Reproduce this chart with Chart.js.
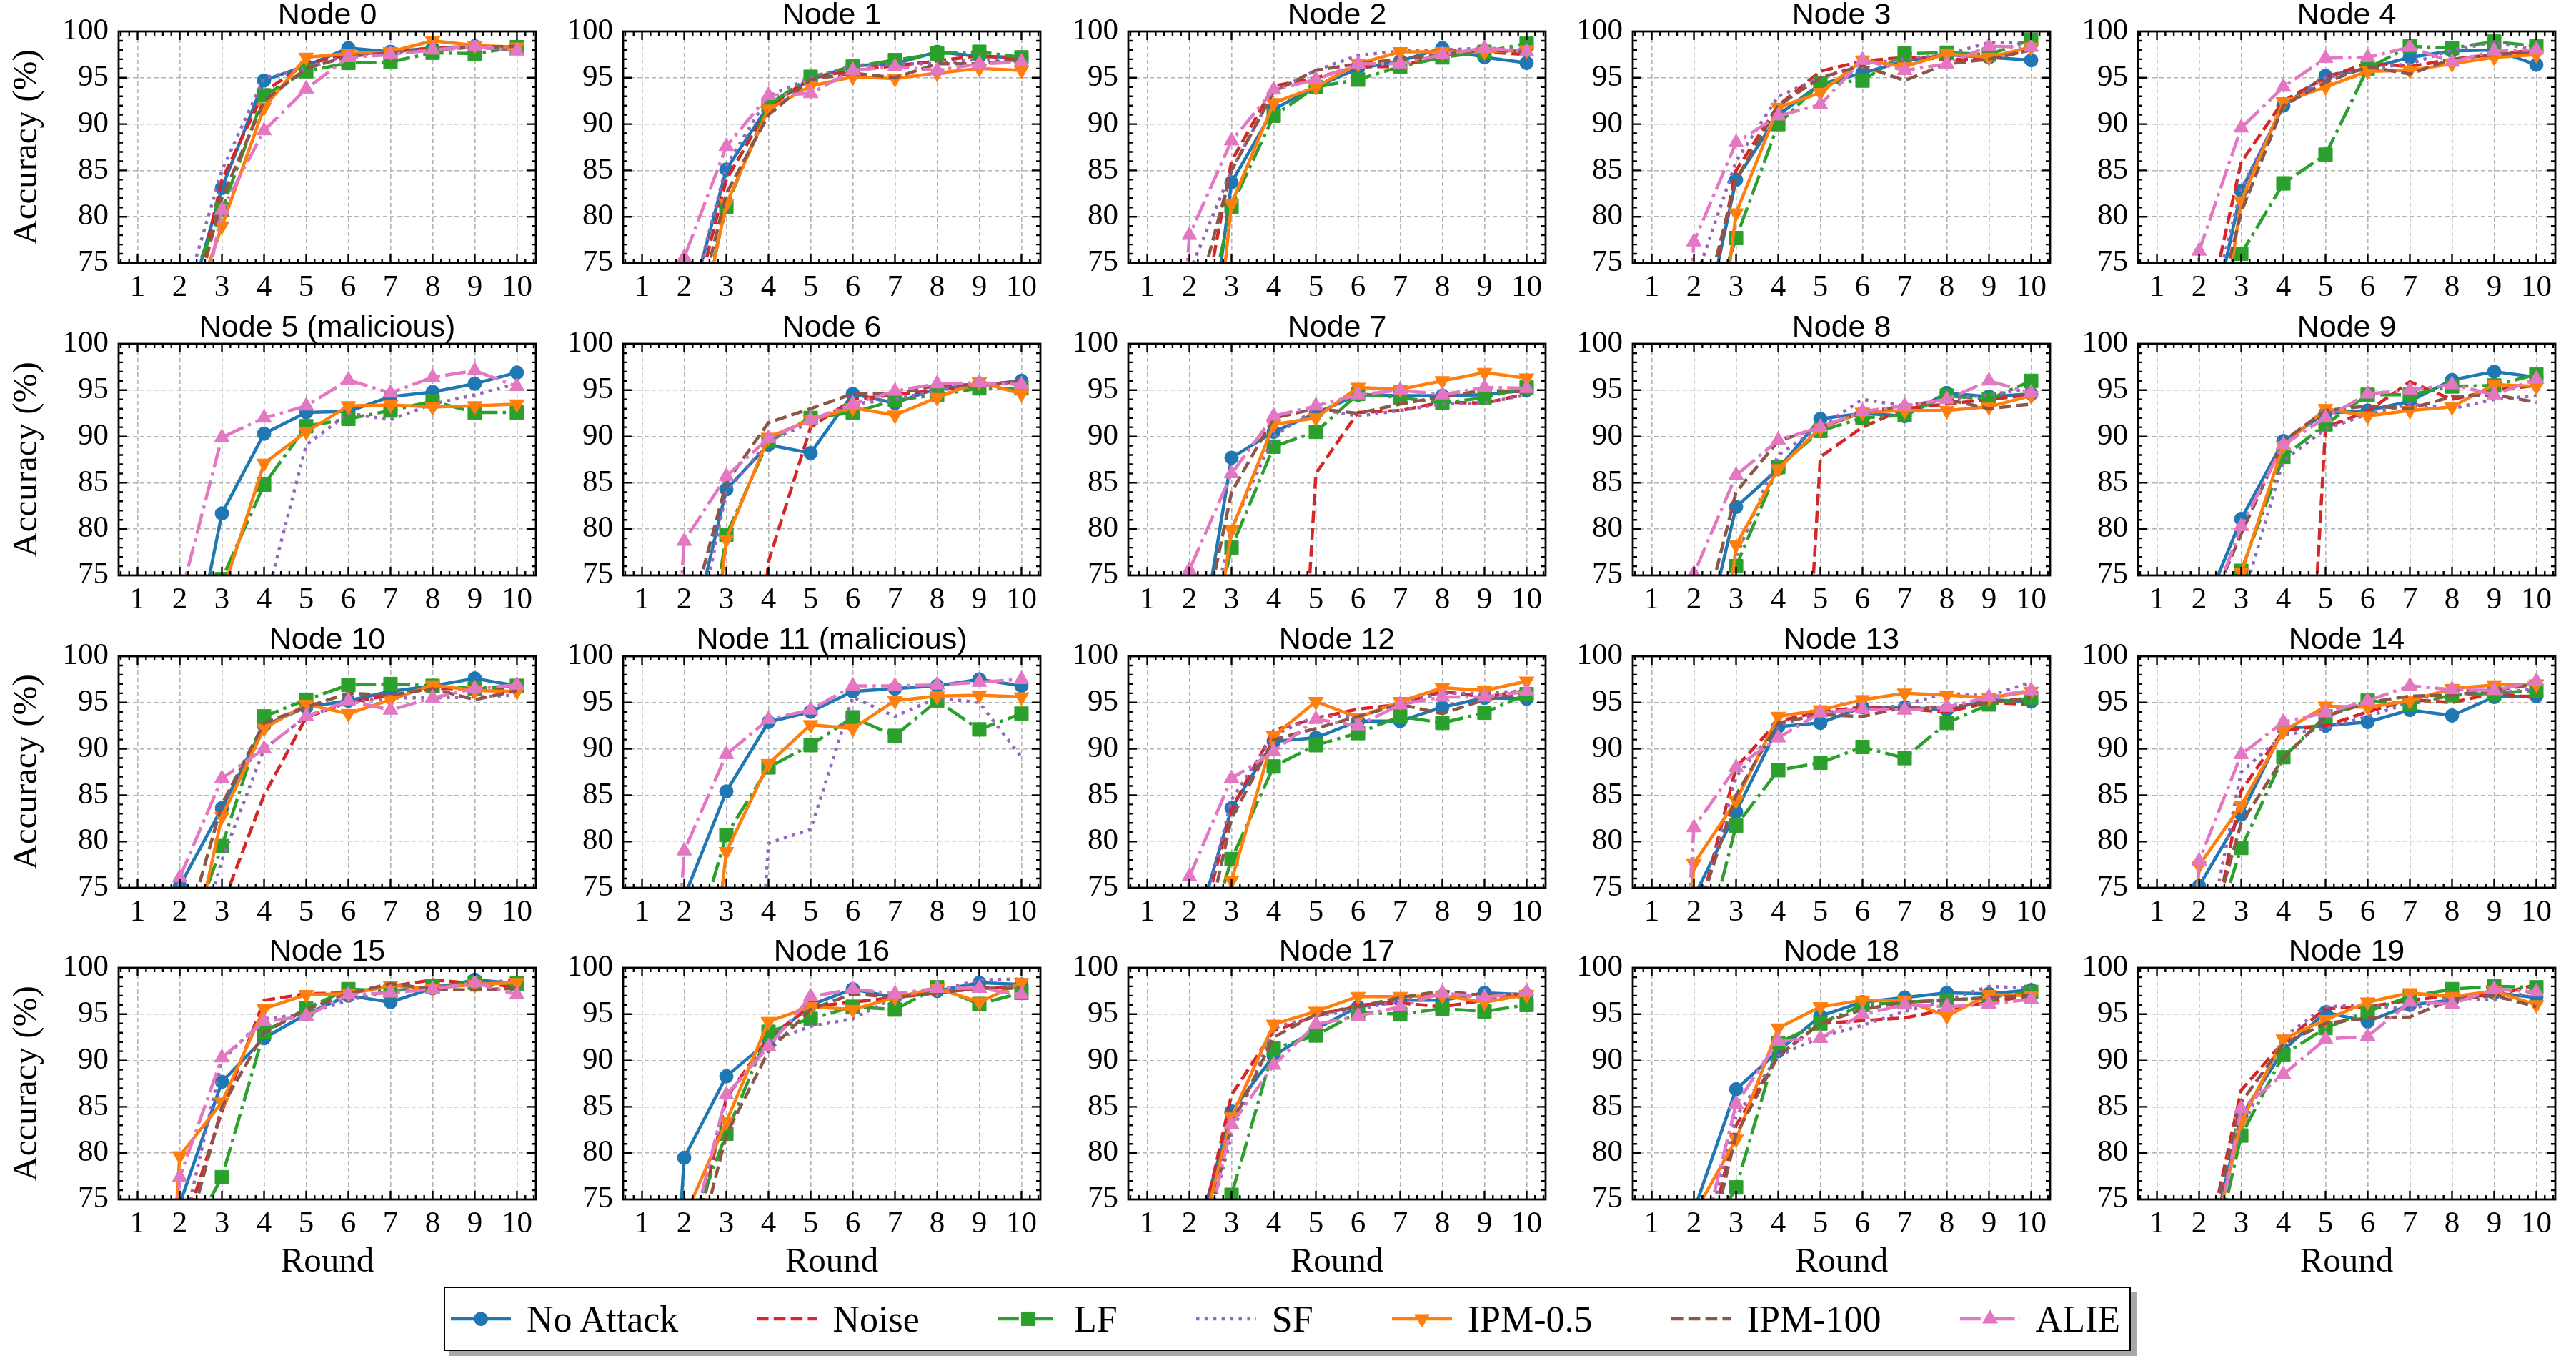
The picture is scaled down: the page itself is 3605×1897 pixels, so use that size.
<!DOCTYPE html>
<html lang="en">
<head>
<meta charset="utf-8">
<title>Accuracy per node</title>
<script src="https://cdn.jsdelivr.net/npm/chart.js@4.4.1/dist/chart.umd.min.js"></script>
<style>
html,body{margin:0;padding:0;background:#fff}
body{position:relative;width:3605px;height:1897px;overflow:hidden;font-family:'Liberation Serif',serif}
.cell{position:absolute}
#legend{position:absolute;left:621px;top:1800px;width:2361px;height:90px;box-sizing:border-box;border:2.6px solid #000;box-shadow:8px 8px 0 #a8a8a8;background:#fff;display:flex;align-items:center;justify-content:space-between;padding:0 13px 0 8px}
.item{display:flex;align-items:center;font-size:52px;color:#000;white-space:nowrap}
.item canvas{margin-right:22px}
</style>
</head>
<body>
<div id="legend"></div>
<script>
/* ===== data ===== */
const ROUNDS=[1,2,3,4,5,6,7,8,9,10];
const Y_TICKS=[75,80,85,90,95,100];
const NAMES=['No Attack','Noise','LF','SF','IPM-0.5','IPM-100','ALIE'];
const TITLES=['Node 0','Node 1','Node 2','Node 3','Node 4','Node 5 (malicious)','Node 6','Node 7','Node 8','Node 9',
  'Node 10','Node 11 (malicious)','Node 12','Node 13','Node 14','Node 15','Node 16','Node 17','Node 18','Node 19'];

const NO_ATTACK=[
 [10,67,83.1,94.7,96.3,98.2,97.8,98.2,98.4,98.3],
 [10,68,85.1,92.0,94.8,96.3,96.5,97.8,97.3,97.2],
 [10,49,83.7,91.6,94.0,96.0,96.8,98.2,97.2,96.6],
 [10,63,84.0,91.0,94.3,95.5,96.8,97.5,97.2,96.9],
 [10,62,82.8,92.0,95.2,96.0,97.2,97.9,98.0,96.4],
 [10,59,81.7,90.3,92.6,92.7,94.3,94.8,95.7,96.9],
 [10,65,84.3,89.1,88.2,94.6,93.6,95.2,95.5,96.0],
 [10,60,87.7,90.5,92.5,94.5,94.4,94.4,94.5,95.0],
 [10,63,82.4,86.5,91.9,92.5,92.2,94.7,94.3,94.6],
 [10,70,81.1,89.5,92.5,92.8,93.8,96.1,97.0,96.4],
 [10,75.2,83.6,92.5,94.5,95.2,96.2,96.8,97.6,96.8],
 [10,74,85.4,92.9,94.0,96.2,96.5,96.8,97.5,96.8],
 [10,68,83.6,90.8,91.2,93.0,93.0,94.5,95.5,95.4],
 [10,74,83.2,92.4,92.8,94.5,94.5,94.2,95.3,95.1],
 [10,75.2,82.9,92.2,92.5,92.9,94.2,93.6,95.6,95.7],
 [10,74.5,87.7,92.4,95.0,97.0,96.3,97.8,98.7,98.3],
 [10,79.5,88.3,92.1,96.0,97.7,96.8,97.5,98.4,98.2],
 [10,68,84.5,90.5,93.4,95.8,96.5,96.5,97.3,97.1],
 [10,73.8,86.9,91.0,94.8,96.3,96.8,97.3,97.2,97.6],
 [10,65,84.0,91.1,95.2,94.2,96.0,96.5,97.3,96.8]
];
const NOISE=[
 [10,64,84.0,93.5,96.5,97.5,97.8,98.2,98.3,98.0],
 [10,66,84.0,91.8,95.0,95.8,96.3,96.8,97.4,97.0],
 [10,61.6,86.0,94.1,95.0,96.2,96.2,97.5,97.8,97.5],
 [10,62.8,85.0,92.0,95.7,96.8,97.2,97.0,97.0,98.0],
 [10,65.3,85.9,92.5,95.0,96.6,96.2,97.0,97.5,98.0],
 [10,10.2,9.8,10.1,10.0,9.9,10.3,10.0,9.8,10.1],
 [10,10,30,76.5,91.0,94.0,94.5,95.0,95.5,96.0],
 [10,10,10,10,86.0,92.6,92.8,93.7,93.6,94.6],
 [10,10,10,10,87.8,91.0,93.0,93.5,94.0,94.5],
 [10,10,10,10,91.0,92.7,95.9,94.0,95.0,95.5],
 [10,40,73.0,85.0,93.4,95.0,95.8,96.5,96.5,96.5],
 [10,9.9,10.1,10.0,10.2,9.8,10.0,10.1,9.9,10.0],
 [10,66,83.5,92.0,93.3,94.3,94.8,96.2,95.6,96.3],
 [10,70,88.0,93.0,94.0,94.5,94.3,94.0,95.0,94.8],
 [10,62,85.5,92.0,92.5,94.0,95.3,95.0,96.0,95.5],
 [10,70.5,84.5,96.5,97.2,97.3,98.0,98.7,98.3,98.0],
 [10,65,86.0,92.5,95.8,96.3,96.8,97.3,97.8,98.0],
 [10,66,86.3,93.2,94.8,96.0,96.2,95.8,96.5,97.0],
 [10,64,83.0,90.5,94.0,94.3,94.6,95.5,96.3,97.0],
 [10,66,86.8,92.0,95.6,95.8,96.5,97.0,97.0,98.2]
];
const LF=[
 [10,70,80.8,93.1,95.7,96.6,96.7,97.7,97.6,98.3],
 [10,62,81.1,92.1,95.1,96.2,96.9,97.6,97.8,97.2],
 [10,61,81.1,90.9,94.0,94.8,96.2,97.2,97.8,98.7],
 [10,64,77.7,90.0,94.4,94.7,97.6,97.7,97.5,99.1],
 [10,56,76.0,83.6,86.7,96.0,98.4,98.2,98.9,98.4],
 [10,45,74.6,84.8,91.1,91.9,92.8,93.8,92.6,92.6],
 [10,50,79.4,89.5,92.0,92.6,93.9,94.5,95.2,95.2],
 [10,58,78.0,88.9,90.5,94.6,94.2,93.6,94.2,95.3],
 [10,60,76.0,86.7,90.6,92.0,92.3,94.4,94.0,96.0],
 [10,55,75.5,87.8,91.3,94.5,94.5,95.4,95.5,96.7],
 [10,67,79.5,93.5,95.3,96.9,97.0,96.8,96.5,96.8],
 [10,65,80.7,88.0,90.4,93.4,91.4,95.2,92.1,93.8],
 [10,63,78.1,88.1,90.4,91.7,93.5,92.8,93.9,95.9],
 [10,64,81.7,87.7,88.5,90.2,89.0,92.8,94.8,95.5],
 [10,65,79.3,89.1,93.5,95.2,94.8,95.8,96.0,96.3],
 [10,69,77.4,93.1,95.6,97.7,97.5,98.0,98.4,98.3],
 [10,70,82.1,93.1,94.5,95.8,95.5,97.9,96.1,97.3],
 [10,50,75.5,91.3,92.7,95.2,95.0,95.6,95.3,96.0],
 [10,68,76.3,91.9,94.0,96.0,96.3,96.5,96.8,97.4],
 [10,62,81.9,90.6,93.5,95.3,96.9,97.7,98.0,97.9]
];
const SF=[
 [10,69.6,85.0,95.0,96.0,97.5,97.8,98.0,98.3,98.0],
 [10,68,85.5,93.0,95.0,96.3,96.5,96.5,97.0,96.8],
 [10,74,85.0,93.5,95.8,97.4,97.9,98.0,98.2,98.0],
 [10,72.7,86.0,93.0,95.0,96.5,97.0,97.5,98.8,98.8],
 [10,65,83.0,92.0,95.0,96.0,96.5,98.0,98.8,98.0],
 [10,20,40,71.5,89.1,92.5,91.8,93.5,94.5,95.7],
 [10,62,84.0,89.5,91.5,93.5,94.0,95.0,95.5,95.8],
 [10,60,80.0,90.0,93.0,92.2,92.8,93.5,93.6,94.5],
 [10,60,77.0,88.0,91.0,94.0,93.3,94.0,94.5,95.2],
 [10,40,71.9,87.4,90.8,92.4,93.5,93.0,94.0,94.4],
 [10,62,78.0,90.0,93.5,95.0,95.5,95.5,95.6,95.8],
 [10,10,10,79.8,81.3,95.6,93.5,95.5,95.0,89.1],
 [10,66,84.5,91.5,93.5,93.5,95.0,96.0,96.0,96.3],
 [10,70,87.0,92.5,94.0,94.0,94.8,96.0,95.7,97.2],
 [10,65,87.5,91.5,92.2,93.5,95.0,96.5,96.0,96.5],
 [10,70,90.0,94.5,95.0,96.5,97.5,98.0,98.3,98.7],
 [10,68,86.0,92.0,93.7,94.5,96.8,97.5,98.7,98.8],
 [10,64,82.0,93.5,94.8,95.5,96.5,97.2,96.8,97.0],
 [10,66,84.0,90.5,92.5,93.8,95.3,96.5,98.0,97.8],
 [10,68,82.5,92.5,95.8,96.0,95.5,96.8,96.5,97.5]
];
const IPM_05=[
 [10,65.7,79.0,91.8,97.2,97.6,97.8,99.0,98.5,98.3],
 [10,60,81.4,91.6,94.1,95.1,94.9,95.5,96.0,95.8],
 [10,39,81.4,92.3,94.0,96.5,97.8,97.8,97.8,98.0],
 [10,44,80.4,91.8,93.4,96.9,96.2,97.6,97.2,98.3],
 [10,51,81.7,92.4,94.0,95.7,95.8,96.5,97.2,97.5],
 [10,45,73.0,87.1,90.5,93.3,93.4,93.2,93.3,93.5],
 [10,40,78.9,89.9,91.8,93.1,92.3,94.2,95.9,94.6],
 [10,49,79.9,91.3,92.0,95.3,95.1,96.0,96.9,96.3],
 [10,37,78.3,86.5,90.9,92.6,92.8,92.8,93.2,94.4],
 [10,45,75.3,89.0,93.0,92.2,92.8,93.2,95.6,95.4],
 [10,62,82.7,92.2,94.8,93.8,95.3,96.9,96.3,96.2],
 [10,40,78.9,88.4,92.6,92.2,95.2,95.7,95.8,95.6],
 [10,40,75.8,91.4,95.1,93.4,95.1,96.6,96.3,97.3],
 [10,77.6,84.4,93.5,94.2,95.3,96.0,95.8,95.5,96.2],
 [10,77.4,83.9,91.9,94.6,94.5,95.2,96.5,96.9,97.0],
 [10,79.7,85.5,95.6,97.1,97.2,98.1,97.8,98.2,98.4],
 [10,73,83.4,94.2,95.8,95.5,96.8,97.8,96.3,98.4],
 [10,66,83.9,93.9,95.3,96.9,96.9,97.0,96.3,97.1],
 [10,73.4,81.5,93.5,95.8,96.5,96.5,94.8,97.1,97.0],
 [10,64,83.4,92.3,94.4,96.3,97.3,96.9,97.5,96.0]
];
const IPM_100=[
 [10,64.5,82.0,92.5,96.0,97.3,97.7,98.0,98.3,98.4],
 [10,64,82.5,91.0,94.8,95.5,95.0,96.5,96.5,97.0],
 [10,68,85.0,93.5,95.8,96.5,97.0,97.5,98.0,97.8],
 [10,66,84.0,92.0,95.0,96.3,94.7,96.5,97.0,98.0],
 [10,62,80.5,92.0,94.5,96.2,95.4,97.0,97.5,97.8],
 [10,10.1,9.9,10.0,10.2,10.0,9.8,10.1,10.0,9.9],
 [10,68,85.0,91.5,93.0,94.6,94.6,95.5,95.6,95.9],
 [10,62,84.0,92.0,93.0,92.5,93.5,94.3,95.0,94.8],
 [10,66,84.0,89.5,91.0,92.6,93.3,94.0,93.0,93.5],
 [10,68.8,79.5,89.5,92.8,93.3,93.0,94.3,94.5,93.7],
 [10,68,84.0,92.8,94.5,96.0,95.8,96.5,95.3,96.3],
 [10,10.0,10.2,9.9,10.1,10.0,9.9,10.2,10.0,10.1],
 [10,62,82.5,91.0,92.2,93.5,94.8,93.8,95.3,96.0],
 [10,71,85.0,92.8,93.7,93.5,94.5,94.5,95.0,95.5],
 [10,66,82.0,89.0,93.5,95.0,95.7,95.8,96.3,97.0],
 [10,68,85.0,93.0,95.5,97.2,98.3,97.7,97.6,97.8],
 [10,64,82.0,91.0,95.5,97.2,96.8,97.3,97.8,97.8],
 [10,64,83.0,92.5,95.0,95.8,96.8,97.5,97.0,97.2],
 [10,63,82.0,90.5,94.0,95.5,96.3,96.5,96.8,97.0],
 [10,66,85.5,91.8,94.0,94.6,94.7,96.6,97.0,95.8]
];
const ALIE=[
 [10,57.6,80.7,89.3,93.8,97.2,97.5,98.0,98.4,97.9],
 [10,75.6,87.6,93.1,93.3,95.8,96.2,95.8,96.5,96.7],
 [10,78.0,88.2,93.7,94.8,96.5,96.5,97.5,98.2,97.8],
 [10,77.3,88.0,90.9,92.1,96.9,95.8,96.5,98.4,98.3],
 [10,76.3,89.6,94.0,97.1,97.2,98.3,96.7,97.9,98.0],
 [10,72.4,89.9,92.0,93.3,96.1,94.7,96.4,97.1,95.4],
 [10,78.7,85.7,89.8,91.8,93.5,94.9,95.7,95.8,95.6],
 [10,75.6,86.0,92.2,93.3,94.5,95.0,94.5,95.3,95.2],
 [10,75.2,85.8,89.6,91.0,92.7,93.3,94.0,96.0,94.7],
 [10,68,80.3,89.1,92.0,94.6,95.0,95.6,94.5,96.2],
 [10,76.1,86.8,90.0,93.5,95.2,94.2,95.5,96.5,96.9],
 [10,79.0,89.4,93.2,94.2,96.8,96.8,96.9,97.2,97.5],
 [10,76.2,86.8,89.7,93.2,92.5,94.8,95.6,95.6,96.2],
 [10,81.5,88.0,91.2,93.9,94.3,94.2,94.5,95.6,96.3],
 [10,77.9,89.4,92.9,93.9,95.2,96.8,96.4,96.3,97.3],
 [10,77.4,90.3,94.2,94.8,97.1,97.3,97.7,98.4,97.1],
 [10,68,86.3,91.5,96.9,97.7,97.2,97.8,97.8,97.1],
 [10,63,83.1,89.5,93.9,94.8,95.8,97.3,96.8,97.4],
 [10,66.8,85.3,92.1,92.4,95.0,96.0,95.8,96.1,96.6],
 [10,61,84.8,88.5,92.3,92.6,96.3,96.1,97.7,97.4]
];
const SERIES=[NO_ATTACK,NOISE,LF,SF,IPM_05,IPM_100,ALIE];

/* ===== style ===== */
const LW=4.5;
const COLORS=['#1f77b4','#d62728','#2ca02c','#9467bd','#ff7f0e','#8c564b','#e377c2'];
const DASHES=[[],[16.6,7.2],[28.8,7.2,4.5,7.2],[4.5,7.4],[],[16.6,7.2],[28.8,7.2,4.5,7.2]];
const MARKS=['circle',false,'rect',false,'triangle',false,'triangle'];
const RADII=[9.5,0,13.5,0,12,0,12];
const ROT=[0,0,0,0,180,0,0];
const W=584,H=324,PADL=160,PADT=50,PADR=30;
const X0=165.5,Y0=44,DX=706.5,DY=436.8;
const TICK_FONT={family:'Liberation Serif',size:43,lineHeight:1.2};
const LABEL_FONT={family:'Liberation Serif',size:49,lineHeight:1.2};

/* 外框 + 內刻度 + 標題 */
const frame={id:'frame',afterDatasetsDraw(ch){
  const {ctx,chartArea:a,scales:{x,y}}=ch;
  ctx.save();ctx.strokeStyle='#000';ctx.lineWidth=2.4;ctx.beginPath();
  for(let i=3;i<=52;i++){const v=i/5,px=x.getPixelForValue(v),L=i%5===0?12:6;
    ctx.moveTo(px,a.bottom);ctx.lineTo(px,a.bottom-L);ctx.moveTo(px,a.top);ctx.lineTo(px,a.top+L);}
  for(let v=76;v<100;v++){const py=y.getPixelForValue(v),L=v%5===0?12:6;
    ctx.moveTo(a.left,py);ctx.lineTo(a.left+L,py);ctx.moveTo(a.right,py);ctx.lineTo(a.right-L,py);}
  ctx.stroke();
  ctx.lineWidth=2.8;ctx.strokeRect(a.left,a.top,a.right-a.left,a.bottom-a.top);
  ctx.restore();
}};
const nodeTitle={id:'nodeTitle',afterDraw(ch,args,o){
  const {ctx,chartArea:a}=ch;
  ctx.save();ctx.font='43px "Liberation Sans"';ctx.fillStyle='#000';ctx.textAlign='center';ctx.textBaseline='middle';
  ctx.fillText(o.text,(a.left+a.right)/2,a.top-22);ctx.restore();
}};

function makeChart(n){
  const r=Math.floor(n/5),c=n%5,last=r===3,first=c===0;
  const B=last?124:70;
  const left=Math.round(X0+DX*c-PADL),top=Math.round(Y0+DY*r-PADT);
  const w=PADL+W+PADR,h=PADT+H+B;
  const div=document.createElement('div');div.className='cell';
  div.style.left=left+'px';div.style.top=top+'px';div.style.width=w+'px';div.style.height=h+'px';
  const cv=document.createElement('canvas');cv.width=w;cv.height=h;cv.style.width=w+'px';cv.style.height=h+'px';
  div.appendChild(cv);document.body.appendChild(div);

  const datasets=NAMES.map((name,k)=>({
    label:name,
    data:ROUNDS.map((x,i)=>({x,y:SERIES[k][n][i]})),
    borderColor:COLORS[k],backgroundColor:COLORS[k],borderWidth:LW,borderDash:DASHES[k],
    borderJoinStyle:'round',tension:0,
    pointStyle:MARKS[k]||'circle',pointRadius:RADII[k],pointRotation:ROT[k],
    pointBorderWidth:1,pointBorderColor:COLORS[k],pointBackgroundColor:COLORS[k],
    order:6-k
  }));

  new Chart(cv,{type:'line',data:{datasets},
    options:{responsive:false,animation:false,devicePixelRatio:1,events:[],
      layout:{padding:{left:0,top:PADT,right:PADR,bottom:0}},
      plugins:{legend:{display:false},tooltip:{enabled:false},title:{display:false},nodeTitle:{text:TITLES[n]}},
      scales:{
        x:{type:'linear',min:0.55,max:10.45,
          afterBuildTicks:s=>{s.ticks=ROUNDS.map(v=>({value:v}))},
          afterFit:s=>{s.height=B},
          grid:{color:'#b4b4b4',lineWidth:1.6,drawTicks:false},
          border:{display:false,dash:[6,4]},
          ticks:{color:'#000',font:TICK_FONT,padding:9,maxRotation:0,autoSkip:false,callback:v=>String(v)},
          title:{display:last,text:'Round',color:'#000',font:LABEL_FONT,padding:{top:0,bottom:6}}},
        y:{type:'linear',min:75,max:100,
          afterBuildTicks:s=>{s.ticks=Y_TICKS.map(v=>({value:v}))},
          afterFit:s=>{s.width=PADL},
          grid:{color:'#b4b4b4',lineWidth:1.6,drawTicks:false},
          border:{display:false,dash:[6,4]},
          ticks:{color:'#000',font:TICK_FONT,padding:14,callback:v=>String(v)},
          title:{display:first,text:'Accuracy (%)',color:'#000',font:LABEL_FONT,padding:{top:3,bottom:0}}}
      }},
    plugins:[frame,nodeTitle]});
}
for(let n=0;n<20;n++)makeChart(n);

/* ===== 圖例 ===== */
const lg=document.getElementById('legend');
NAMES.forEach((name,k)=>{
  const it=document.createElement('div');it.className='item';
  const sw=document.createElement('canvas');sw.width=84;sw.height=44;
  const g=sw.getContext('2d');
  g.strokeStyle=COLORS[k];g.fillStyle=COLORS[k];g.lineWidth=LW;g.setLineDash(DASHES[k]);
  g.beginPath();g.moveTo(0,22);g.lineTo(84,22);g.stroke();g.setLineDash([]);
  if(MARKS[k]){g.lineWidth=1;Chart.helpers.drawPoint(g,{pointStyle:MARKS[k],radius:RADII[k],rotation:ROT[k],borderWidth:1},42,22);}
  const t=document.createElement('span');t.textContent=name;
  it.appendChild(sw);it.appendChild(t);lg.appendChild(it);
});
</script>
</body>
</html>
